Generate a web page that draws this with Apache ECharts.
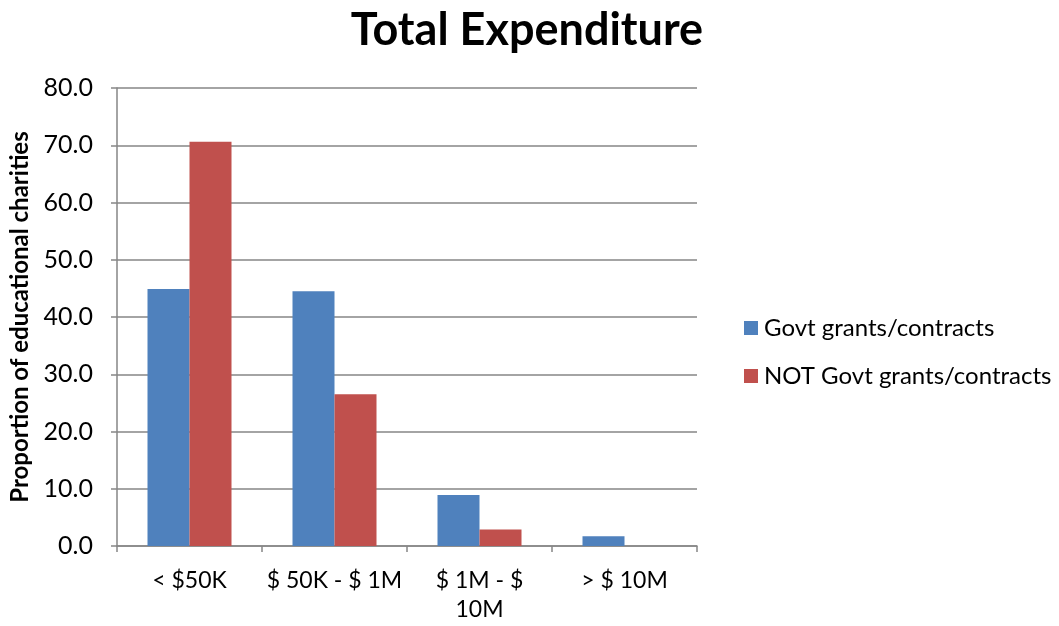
<!DOCTYPE html>
<html><head><meta charset="utf-8">
<script src="https://cdn.jsdelivr.net/npm/echarts@6/dist/echarts.min.js"></script>
<style>html,body{margin:0;padding:0;background:#fff}#c{width:1059px;height:626px}</style>
</head><body><div id="c"></div>
<script>
const categories = ['< $50K', '$ 50K - $ 1M', '$ 1M - $\n10M', '> $ 10M'];
const govt = [44.9, 44.5, 8.9, 1.7];
const notGovt = [70.6, 26.5, 2.9, 0];
const seriesNames = ['Govt grants/contracts', 'NOT Govt grants/contracts'];
const chart = echarts.init(document.getElementById('c'));
const FONT = 'Lato, "Open Sans", sans-serif';
const grey = '#868686';
chart.setOption({
  animation: false,
  textStyle: {fontFamily: FONT},
  title: {text: 'Total Expenditure', left: 522, textAlign: 'center', top: 3,
    textStyle: {fontFamily: FONT, fontSize: 45, fontWeight: 'bold', color: '#000'}},
  legend: {orient: 'vertical', left: 739, top: 311, itemGap: 24, itemWidth: 14, itemHeight: 14,
    icon: 'rect', data: seriesNames,
    textStyle: {fontFamily: FONT, fontSize: 24, color: '#000', padding: [0,0,0,1]}},
  grid: {left: 117, right: 362, top: 88, bottom: 80, containLabel: false, outerBoundsMode: 'none'},
  xAxis: {type: 'category', data: categories,
    axisLine: {lineStyle: {color: grey, width: 1.5}},
    axisTick: {show: true, length: 6, lineStyle: {color: grey, width: 1.5}},
    axisLabel: {fontFamily: FONT, fontSize: 23, color: '#000', margin: 20, lineHeight: 29, interval: 0}},
  yAxis: {type: 'value', min: 0, max: 80, interval: 10,
    name: 'Proportion of educational charities', nameLocation: 'middle', nameGap: 83, nameRotate: 90,
    nameTextStyle: {fontFamily: FONT, fontSize: 24, fontWeight: 'bold', color: '#000'},
    axisLine: {show: true, lineStyle: {color: grey, width: 1.5}},
    axisTick: {show: true, length: 6, lineStyle: {color: grey, width: 1.5}},
    splitLine: {lineStyle: {color: grey, width: 1.5}},
    axisLabel: {fontFamily: FONT, fontSize: 25, color: '#000', margin: 24, formatter: v => v.toFixed(1)}},
  series: [
    {name: seriesNames[0], type: 'bar', data: govt, barWidth: 42, barGap: '0%',
      itemStyle: {color: '#4f81bd'}},
    {name: seriesNames[1], type: 'bar', data: notGovt, barWidth: 42, barGap: '0%',
      itemStyle: {color: '#c0504d'}}
  ]
});
</script></body></html>
